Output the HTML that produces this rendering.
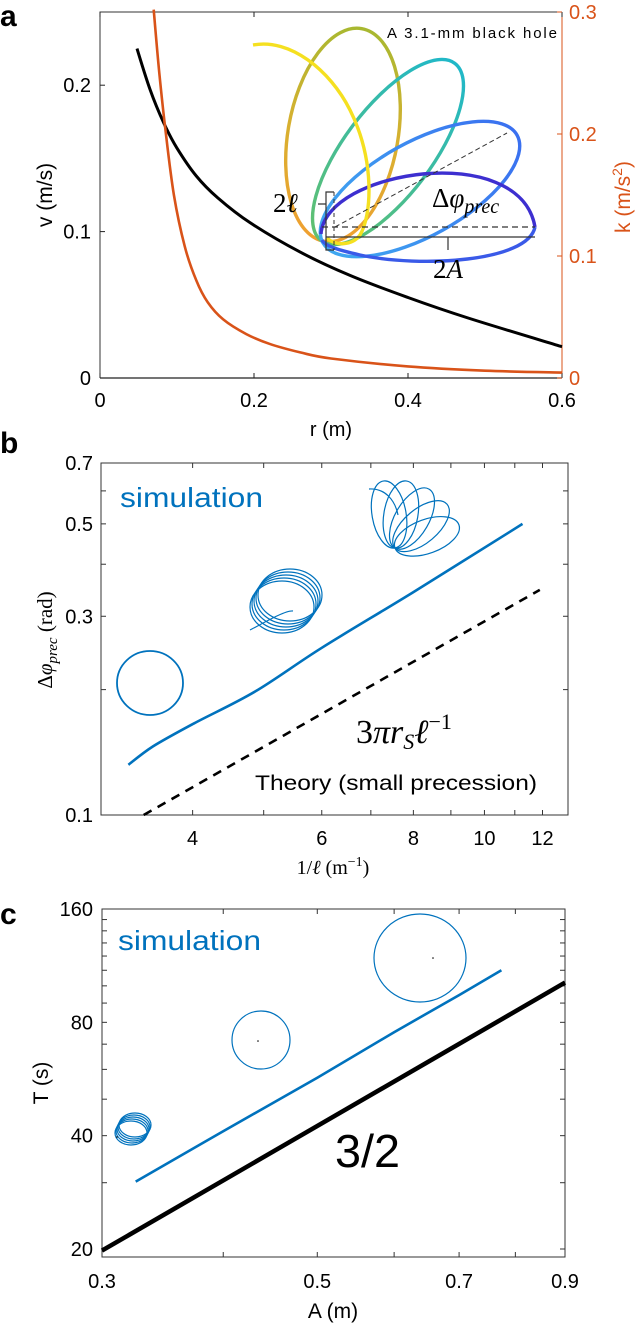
<!DOCTYPE html>
<html><head><meta charset="utf-8"><style>
html,body{margin:0;padding:0;background:#fff;}
svg{display:block;font-family:"Liberation Sans",Arial,sans-serif;}
</style></head><body>
<svg id="fig" width="642" height="1323" viewBox="0 0 642 1323" xmlns="http://www.w3.org/2000/svg">
<defs>
<linearGradient id="g4" x1="0" x2="1" y1="0" y2="0"><stop offset="0" stop-color="#f0a030"/><stop offset="0.5" stop-color="#d8b030"/><stop offset="1" stop-color="#a8b830"/></linearGradient>
<linearGradient id="g3" x1="0" x2="1" y1="0" y2="0"><stop offset="0" stop-color="#60c070"/><stop offset="1" stop-color="#20b8c8"/></linearGradient>
<linearGradient id="g2" x1="0" x2="1" y1="0" y2="0"><stop offset="0" stop-color="#3fa8f0"/><stop offset="1" stop-color="#3a70f0"/></linearGradient>
</defs>
<g id="panelA"></g>
<g id="panelB"></g>
<g id="panelC"></g>
</svg>
<script>
// ---------- Panel a data ----------
const aBlackR = [0.048,0.065,0.083,0.1,0.125,0.153,0.195,0.26,0.325,0.4,0.478,0.6];
const aBlackV = [0.225,0.197,0.174,0.157,0.138,0.123,0.106,0.086,0.07,0.055,0.041,0.0214];
const aOrangeR = [0.0697,0.077,0.085,0.096,0.11,0.125,0.14,0.16,0.19,0.22,0.26,0.3,0.4,0.5,0.6];
const aOrangeK = [0.302,0.25,0.203,0.15,0.108,0.08,0.062,0.048,0.036,0.028,0.021,0.016,0.0095,0.006,0.0044];
const aXTicks = [0,0.2,0.4,0.6];
const aXTickLabels = ["0","0.2","0.4","0.6"];
const aVTicks = [0,0.1,0.2];
const aVTickLabels = ["0","0.1","0.2"];
const aKTicks = [0,0.1,0.2,0.3];
const aKTickLabels = ["0","0.1","0.2","0.3"];
// ---------- Panel b data ----------
const bSimX = [3.27,3.53,4.02,4.87,6.0,7.98,11.27];
const bSimY = [0.132,0.146,0.166,0.198,0.252,0.342,0.5];
const bTheoryX = [3.43,11.9];
const bTheoryY = [0.1,0.347];
const bXTicks = [4,6,8,10,12];
const bXTickLabels = ["4","6","8","10","12"];
const bXMinor = [3,5,7,9,11,13];
const bYTicks = [0.1,0.3,0.5,0.7];
const bYTickLabels = ["0.1","0.3","0.5","0.7"];
const bYMinor = [0.2,0.4,0.6];
// ---------- Panel c data ----------
const cSimA = [0.325,0.4,0.5,0.6,0.7,0.774];
const cSimT = [30.2,41.1,57,75.3,94.5,110];
const cFitA = [0.3,0.9];
const cFitT = [19.8,102];
const cXTicks = [0.3,0.5,0.7,0.9];
const cXTickLabels = ["0.3","0.5","0.7","0.9"];
const cXMinor = [0.4,0.6,0.8];
const cYTicks = [20,40,80,160];
const cYTickLabels = ["20","40","80","160"];
const cYMinor = [30,50,60,70,90,100,110,120,130,140,150];

const NS="http://www.w3.org/2000/svg";
function mk(parent,tag,attrs,text){const e=document.createElementNS(NS,tag);for(const k in attrs)e.setAttribute(k,attrs[k]);if(text!==undefined)e.textContent=text;parent.appendChild(e);return e;}
function pathFrom(xs,ys,fx,fy){return xs.map((v,i)=>(i?'L':'M')+fx(v).toFixed(1)+','+fy(ys[i]).toFixed(1)).join(' ');}
function smoothFrom(xs,ys,fx,fy){
  const p=xs.map((v,i)=>[fx(v),fy(ys[i])]);
  let d='M'+p[0][0].toFixed(1)+','+p[0][1].toFixed(1);
  for(let i=0;i<p.length-1;i++){
    const p0=p[Math.max(i-1,0)],p1=p[i],p2=p[i+1],p3=p[Math.min(i+2,p.length-1)];
    const c1=[p1[0]+(p2[0]-p0[0])/6,p1[1]+(p2[1]-p0[1])/6];
    const c2=[p2[0]-(p3[0]-p1[0])/6,p2[1]-(p3[1]-p1[1])/6];
    d+=' C'+c1.map(n=>n.toFixed(1)).join(',')+' '+c2.map(n=>n.toFixed(1)).join(',')+' '+p2[0].toFixed(1)+','+p2[1].toFixed(1);
  }
  return d;
}
const lin=(d0,d1,p0,p1)=>v=>p0+(v-d0)/(d1-d0)*(p1-p0);
const lg=(d0,d1,p0,p1)=>v=>p0+(Math.log10(v)-Math.log10(d0))/(Math.log10(d1)-Math.log10(d0))*(p1-p0);

// ================= PANEL A =================
(function(){
const g=document.getElementById('panelA');
const L=100,R=562,T=12,B=378;
const x=lin(0,0.6,L,R), yv=lin(0,0.25,B,T), yk=lin(0,0.3,B,T);
let t=mk(g,'text',{x:0,y:26,'font-size':30,'font-weight':'bold'},'a');

let f=mk(g,'path',{d:`M${L},${B}V${T}H${R}`,fill:'none',stroke:'#333','stroke-width':1});

let ax=mk(g,'line',{x1:L,y1:B,x2:R,y2:B,stroke:'#222','stroke-width':1.2});

let ra=mk(g,'line',{x1:R,y1:B,x2:R,y2:T,stroke:'#d95319','stroke-width':1});

aXTicks.forEach((v,i)=>{
  mk(g,'line',{x1:x(v),y1:B,x2:x(v),y2:B-5,stroke:'#222'});mk(g,'line',{x1:x(v),y1:T,x2:x(v),y2:T+5,stroke:'#222'});
  const e=mk(g,'text',{x:x(v),y:407,'font-size':20,'text-anchor':'middle'},aXTickLabels[i]);
  
});
aVTicks.forEach((v,i)=>{
  mk(g,'line',{x1:L,y1:yv(v),x2:L+5,y2:yv(v),stroke:'#222'});
  const e=mk(g,'text',{x:91,y:yv(v)+7,'font-size':20,'text-anchor':'end'},aVTickLabels[i]);
  
});
aKTicks.forEach((v,i)=>{
  mk(g,'line',{x1:R,y1:yk(v),x2:R-5,y2:yk(v),stroke:'#d95319'});
  const e=mk(g,'text',{x:569,y:yk(v)+7,'font-size':20,fill:'#d95319'},aKTickLabels[i]);
  
});
let xl=mk(g,'text',{x:331,y:436,'font-size':20,'text-anchor':'middle'},'r (m)');

let vl=mk(g,'text',{x:0,y:0,'font-size':21,'text-anchor':'middle',transform:'translate(52,195) rotate(-90)'},'v (m/s)');

let kl=mk(g,'text',{x:0,y:0,'font-size':21,'text-anchor':'middle',fill:'#d95319',transform:'translate(630,197) rotate(-90)'});

kl.innerHTML='k (m/s<tspan dy="-8" font-size="14">2</tspan><tspan dy="8">)</tspan>';
let bl=mk(g,'path',{d:smoothFrom(aBlackR,aBlackV,x,yv),fill:'none',stroke:'#000','stroke-width':3,'stroke-linejoin':'round'});

let oc=mk(g,'path',{d:smoothFrom(aOrangeR,aOrangeK,x,yk),fill:'none',stroke:'#d95319','stroke-width':2.6,'stroke-linejoin':'round'});

const ins=mk(g,'g',{});

const sw=3.4;
mk(ins,'ellipse',{cx:343,cy:135,rx:108,ry:55,transform:'rotate(-80 343 135)',fill:'none',stroke:'url(#g4)','stroke-width':sw});
mk(ins,'ellipse',{cx:388,cy:152,rx:111,ry:44,transform:'rotate(-53 388 152)',fill:'none',stroke:'url(#g3)','stroke-width':sw});
mk(ins,'ellipse',{cx:420,cy:189,rx:111,ry:47,transform:'rotate(-29 420 189)',fill:'none',stroke:'url(#g2)','stroke-width':sw});
mk(ins,'path',{d:'M535,227 C528,262 420,268 360,255 C338,250 325,246 322,240',fill:'none',stroke:'#3a5ae8','stroke-width':sw});
mk(ins,'path',{d:'M321,234 C325,170 520,140 535,227',fill:'none',stroke:'#3d2fd0','stroke-width':sw});
mk(ins,'path',{d:'M253,45 C290,38 330,70 350,110 C375,160 372,215 360,235 C352,246 335,246 327,238',fill:'none',stroke:'#f5e020','stroke-width':sw});
mk(ins,'line',{x1:322,y1:227,x2:535,y2:227,stroke:'#333','stroke-width':1.2,'stroke-dasharray':'6,4'});
mk(ins,'line',{x1:335,y1:227,x2:507,y2:133,stroke:'#333','stroke-width':1,'stroke-dasharray':'5,3'});
mk(ins,'path',{d:'M326,237H535M448,237V250',fill:'none',stroke:'#333','stroke-width':1.2});
mk(ins,'path',{d:'M334,192H326V250H334M318,204H326',fill:'none',stroke:'#333','stroke-width':1.2});
mk(ins,'line',{x1:334,y1:192,x2:334,y2:250,stroke:'#333','stroke-width':1,'stroke-dasharray':'4,3'});
let t1=mk(ins,'text',{x:273,y:212,'font-size':27,'font-family':'"Liberation Serif",serif'});
t1.innerHTML='2<tspan font-style="italic">ℓ</tspan>';

let t2=mk(ins,'text',{x:432,y:207,'font-size':27,'font-family':'"Liberation Serif",serif'});
t2.innerHTML='Δ<tspan font-style="italic">φ</tspan><tspan font-style="italic" font-size="20" dy="6">prec</tspan>';

let t3=mk(ins,'text',{x:433,y:278,'font-size':27,'font-family':'"Liberation Serif",serif'});
t3.innerHTML='2<tspan font-style="italic">A</tspan>';

let t4=mk(ins,'text',{x:387,y:38,'font-size':15,textLength:170},'A 3.1-mm black hole');

})();

// ================= PANEL B =================
(function(){
const g=document.getElementById('panelB');
const L=101,R=568,T=463,B=815;
const x=lg(3,13,L,R), y=lg(0.1,0.7,B,T);
let t=mk(g,'text',{x:0,y:453,'font-size':30,'font-weight':'bold'},'b');

let f=mk(g,'rect',{x:L,y:T,width:R-L,height:B-T,fill:'none',stroke:'#333','stroke-width':1});

bXTicks.concat(bXMinor).forEach(v=>{if(v<13){mk(g,'line',{x1:x(v),y1:B,x2:x(v),y2:B-5,stroke:'#333'});mk(g,'line',{x1:x(v),y1:T,x2:x(v),y2:T+5,stroke:'#333'});}});
bYTicks.concat(bYMinor).forEach(v=>{mk(g,'line',{x1:L,y1:y(v),x2:L+5,y2:y(v),stroke:'#333'});mk(g,'line',{x1:R,y1:y(v),x2:R-5,y2:y(v),stroke:'#333'});});
bXTicks.forEach((v,i)=>{const e=mk(g,'text',{x:x(v),y:845,'font-size':20,'text-anchor':'middle'},bXTickLabels[i]);
});
bYTicks.forEach((v,i)=>{const e=mk(g,'text',{x:93,y:y(v)+7,'font-size':20,'text-anchor':'end'},bYTickLabels[i]);
});
let xl=mk(g,'text',{x:333,y:874,'font-size':20,'text-anchor':'middle','font-family':'"Liberation Serif",serif'});
xl.innerHTML='1/<tspan font-style="italic">ℓ</tspan> (m<tspan dy="-8" font-size="14">−1</tspan><tspan dy="8">)</tspan>';

let yl=mk(g,'text',{x:0,y:0,'font-size':21,'text-anchor':'middle','font-family':'"Liberation Serif",serif',transform:'translate(52,640) rotate(-90)'});
yl.innerHTML='Δ<tspan font-style="italic">φ</tspan><tspan font-style="italic" font-size="15" dy="5">prec</tspan><tspan dy="-5"> (rad)</tspan>';

let sim=mk(g,'path',{d:smoothFrom(bSimX,bSimY,x,y),fill:'none',stroke:'#0072bd','stroke-width':2.6,'stroke-linejoin':'round'});

let th=mk(g,'path',{d:pathFrom(bTheoryX,bTheoryY,x,y),fill:'none',stroke:'#000','stroke-width':2.6,'stroke-dasharray':'9,7'});

let s=mk(g,'text',{x:120,y:507,'font-size':28,fill:'#0072bd',textLength:143,lengthAdjust:'spacingAndGlyphs'},'simulation');

let fm=mk(g,'text',{x:356,y:743,'font-size':34,'font-family':'"Liberation Serif",serif','font-style':'italic'});
fm.innerHTML='<tspan font-style="normal">3</tspan>π<tspan>r</tspan><tspan font-size="22" dy="6">S</tspan><tspan dy="-6">ℓ</tspan><tspan font-size="22" font-style="normal" dy="-14">−1</tspan>';

let tt=mk(g,'text',{x:255,y:790,'font-size':21,textLength:282,lengthAdjust:'spacingAndGlyphs'},'Theory (small precession)');

const o=mk(g,'g',{fill:'none',stroke:'#0072bd','stroke-width':1.2});

mk(o,'ellipse',{cx:150,cy:683,rx:33,ry:32,'stroke-width':1.8});
[[0,0],[2,-3],[4,-6],[6,-9],[8,-12]].forEach(d=>mk(o,'ellipse',{cx:282+d[0],cy:607+d[1],rx:32,ry:26}));
mk(o,'path',{d:'M250,630 C260,625 285,610 293,611'});
[-100,-80,-60,-40,-20].forEach(a=>{const cx=395+34*Math.cos(a*Math.PI/180),cy=548+34*Math.sin(a*Math.PI/180);mk(o,'ellipse',{cx:cx,cy:cy,rx:34,ry:17,transform:`rotate(${a} ${cx} ${cy})`});});
mk(o,'path',{d:'M369,489 C385,488 395,500 398,515'});
})();

// ================= PANEL C =================
(function(){
const g=document.getElementById('panelC');
const L=102,R=565,T=909,B=1257;
const x=lg(0.3,0.9,L,R), y=lg(160,20,T,1249);
let t=mk(g,'text',{x:0,y:924,'font-size':30,'font-weight':'bold'},'c');

let f=mk(g,'rect',{x:L,y:T,width:R-L,height:B-T,fill:'none',stroke:'#333','stroke-width':1});

cXTicks.concat(cXMinor).forEach(v=>{mk(g,'line',{x1:x(v),y1:B,x2:x(v),y2:B-5,stroke:'#333'});mk(g,'line',{x1:x(v),y1:T,x2:x(v),y2:T+5,stroke:'#333'});});
cYTicks.concat(cYMinor).forEach(v=>{mk(g,'line',{x1:L,y1:y(v),x2:L+5,y2:y(v),stroke:'#333'});mk(g,'line',{x1:R,y1:y(v),x2:R-5,y2:y(v),stroke:'#333'});});
cXTicks.forEach((v,i)=>{const e=mk(g,'text',{x:x(v),y:1288,'font-size':20,'text-anchor':'middle'},cXTickLabels[i]);
});
cYTicks.forEach((v,i)=>{const e=mk(g,'text',{x:93,y:y(v)+7,'font-size':20,'text-anchor':'end'},cYTickLabels[i]);
});
let xl=mk(g,'text',{x:333,y:1318,'font-size':21,'text-anchor':'middle'},'A (m)');

let yl=mk(g,'text',{x:0,y:0,'font-size':21,'text-anchor':'middle',transform:'translate(48,1083) rotate(-90)'},'T (s)');

let fit=mk(g,'path',{d:pathFrom(cFitA,cFitT,x,y),fill:'none',stroke:'#000','stroke-width':4.5});

let sim=mk(g,'path',{d:pathFrom(cSimA,cSimT,x,y),fill:'none',stroke:'#0072bd','stroke-width':2.6,'stroke-linejoin':'round'});

let s=mk(g,'text',{x:118,y:950,'font-size':28,fill:'#0072bd',textLength:143,lengthAdjust:'spacingAndGlyphs'},'simulation');

let sl=mk(g,'text',{x:335,y:1167,'font-size':46,textLength:65,lengthAdjust:'spacingAndGlyphs'},'3/2');

const o=mk(g,'g',{fill:'none',stroke:'#0072bd','stroke-width':1.2});

mk(o,'ellipse',{cx:420,cy:958,rx:46,ry:44});
mk(o,'ellipse',{cx:261,cy:1040,rx:29,ry:29});
[[0,0],[1,-2],[2,-4],[3,-6],[4,-8]].forEach(d=>mk(o,'ellipse',{cx:131+d[0],cy:1133+d[1],rx:16,ry:12}));
mk(g,'circle',{cx:433,cy:958,r:0.8,fill:'#000'});
mk(g,'circle',{cx:258,cy:1041,r:0.8,fill:'#000'});
mk(g,'circle',{cx:117,cy:1137,r:0.8,fill:'#000'});
})();
</script>
</body></html>
